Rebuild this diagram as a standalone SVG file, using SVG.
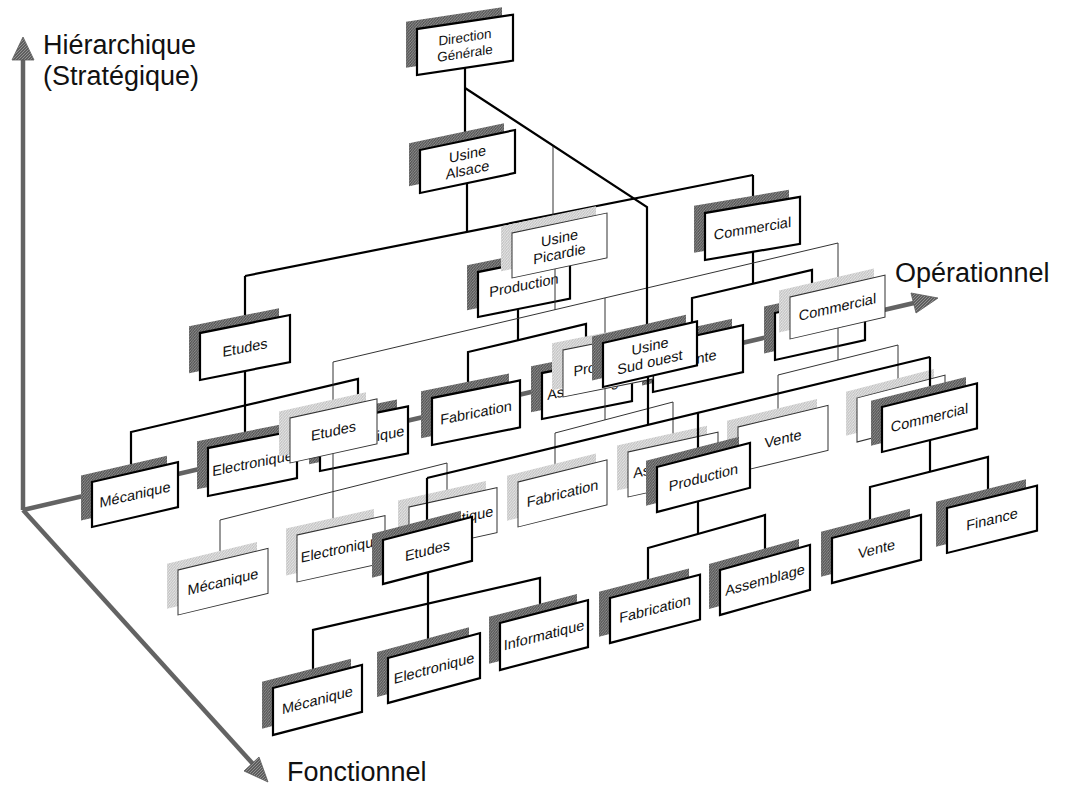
<svg xmlns="http://www.w3.org/2000/svg" width="1072" height="786" viewBox="0 0 1072 786">
  <defs>
    <pattern id="hatchDark" width="3" height="3" patternUnits="userSpaceOnUse">
      <rect width="3" height="3" fill="#555"/>
      <path d="M0,3 L3,0" stroke="#a0a0a0" stroke-width="0.8"/>
    </pattern>
    <pattern id="hatchLight" width="3" height="3" patternUnits="userSpaceOnUse">
      <rect width="3" height="3" fill="#c4c4c4"/>
      <path d="M0,3 L3,0" stroke="#f2f2f2" stroke-width="0.8"/>
    </pattern>
    <pattern id="hatchAxis" width="3" height="3" patternUnits="userSpaceOnUse">
      <rect width="3" height="3" fill="#5e5e5e"/>
      <path d="M0,3 L3,0" stroke="#aaa" stroke-width="0.7"/>
    </pattern>
  </defs>
  <style>
    .bx-d { fill:#fff; stroke:#000; stroke-width:2.2; }
    .bx-l { fill:#fff; stroke:#333; stroke-width:1; }
    .sh-d { fill:url(#hatchDark); }
    .sh-l { fill:url(#hatchLight); }
    .lbl { font-family:"Liberation Sans", Arial, sans-serif; font-size:14.5px; text-anchor:middle; fill:#111; }
    .lbl-s { font-size:13.5px; }
    .ln-d { fill:none; stroke:#000; stroke-width:2.2; }
    .ln-l { fill:none; stroke:#333; stroke-width:1; }
    .axis { fill:none; stroke:#636363; stroke-width:4.5; }
    .head { fill:url(#hatchAxis); stroke:#5a5a5a; stroke-width:0.8; }
    .ax-lbl { font-family:"Liberation Sans", Arial, sans-serif; font-size:27px; fill:#111; }
  </style>
  <rect width="1072" height="786" fill="#fff"/>

  <!-- three axes from the common origin -->
  <g id="axes">
    <path class="axis" d="M23,510 V58"/>
    <polygon class="head" points="12,60 34,60 23,37"/>
    <path class="axis" d="M23,510 L914,303"/>
    <polygon class="head" points="911,293 916,313 938,298"/>
    <path class="axis" d="M23,510 L253,764"/>
    <polygon class="head" points="244,771 259,757 268,782"/>
    <text class="ax-lbl" x="43" y="54">Hiérarchique</text>
    <text class="ax-lbl" x="43" y="85">(Stratégique)</text>
    <text class="ax-lbl" x="895" y="282">Opérationnel</text>
    <text class="ax-lbl" x="287" y="781">Fonctionnel</text>
  </g>

  <!-- back plane: Usine Alsace -->
  <g id="connectors-alsace">
    <path class="ln-d" d="M465,68 V141"/>
    <path class="ln-d" d="M467,183 V232"/>
    <path class="ln-d" d="M245,276 L753,175"/>
    <path class="ln-d" d="M245,276 V324"/>
    <path class="ln-d" d="M518,222 V264"/>
    <path class="ln-d" d="M753,175 V205"/>
    <path class="ln-d" d="M131,473 V432 L358,379 V416"/>
    <path class="ln-d" d="M245,371 V441"/>
    <path class="ln-d" d="M468,391 V352 L586,324 V364"/>
    <path class="ln-d" d="M518,309 V340"/>
    <path class="ln-d" d="M692,336 V298 L812,270 V305"/>
    <path class="ln-d" d="M753,252 V284"/>
  </g>

  <g id="direction-generale" transform="translate(417,29) skewY(-8.5)">
    <rect class="sh-d" x="-11" y="-9" width="96" height="46"/>
    <rect class="bx-d" width="96" height="46"/>
    <text class="lbl lbl-s" x="48" y="20">Direction</text>
    <text class="lbl lbl-s" x="48" y="36">Générale</text>
  </g>
  <g id="usine-alsace" transform="translate(420,150) skewY(-11.9)">
    <rect class="sh-d" x="-11" y="-9" width="95" height="43"/>
    <rect class="bx-d" width="95" height="43"/>
    <text class="lbl" x="47.5" y="19">Usine</text>
    <text class="lbl" x="47.5" y="35">Alsace</text>
  </g>
  <g id="alsace-etudes" transform="translate(200,333) skewY(-11.3)">
    <rect class="sh-d" x="-11" y="-9" width="90" height="47"/>
    <rect class="bx-d" width="90" height="47"/>
    <text class="lbl" x="45" y="28.5">Etudes</text>
  </g>
  <g id="alsace-production" transform="translate(478,272) skewY(-11.3)">
    <rect class="sh-d" x="-11" y="-9" width="92" height="45"/>
    <rect class="bx-d" width="92" height="45"/>
    <text class="lbl" x="46" y="27.5">Production</text>
  </g>
  <g id="alsace-commercial" transform="translate(705,213) skewY(-9.65)">
    <rect class="sh-d" x="-11" y="-9" width="95" height="47"/>
    <rect class="bx-d" width="95" height="47"/>
    <text class="lbl" x="47.5" y="28.5">Commercial</text>
  </g>
  <g id="alsace-mecanique" transform="translate(92,482) skewY(-13)">
    <rect class="sh-d" x="-11" y="-9" width="86" height="45"/>
    <rect class="bx-d" width="86" height="45"/>
    <text class="lbl" x="43" y="27.5">Mécanique</text>
  </g>
  <g id="alsace-electronique" transform="translate(208,448) skewY(-11.3)">
    <rect class="sh-d" x="-11" y="-9" width="89" height="48"/>
    <rect class="bx-d" width="89" height="48"/>
    <text class="lbl" x="44.5" y="29">Electronique</text>
  </g>
  <g id="alsace-informatique" transform="translate(320,424) skewY(-11.3)">
    <rect class="sh-d" x="-11" y="-9" width="88" height="47"/>
    <rect class="bx-d" width="88" height="47"/>
    <text class="lbl" x="44" y="28.5">Informatique</text>
  </g>
  <g id="alsace-fabrication" transform="translate(432,398) skewY(-11.3)">
    <rect class="sh-d" x="-11" y="-9" width="88" height="47"/>
    <rect class="bx-d" width="88" height="47"/>
    <text class="lbl" x="44" y="28.5">Fabrication</text>
  </g>
  <g id="alsace-assemblage" transform="translate(542,373) skewY(-11.3)">
    <rect class="sh-d" x="-11" y="-9" width="90" height="46"/>
    <rect class="bx-d" width="90" height="46"/>
    <text class="lbl" x="45" y="28">Assemblage</text>
  </g>
  <g id="alsace-vente" transform="translate(653,345) skewY(-12.4)">
    <rect class="sh-d" x="-11" y="-9" width="90" height="47"/>
    <rect class="bx-d" width="90" height="47"/>
    <text class="lbl" x="45" y="28.5">Vente</text>
  </g>
  <g id="alsace-finance" transform="translate(775,313) skewY(-12.4)">
    <rect class="sh-d" x="-11" y="-9" width="90" height="47"/>
    <rect class="bx-d" width="90" height="47"/>
    <text class="lbl" x="45" y="28.5">Finance</text>
  </g>

  <!-- middle plane: Usine Picardie -->
  <g id="connectors-picardie">
    <path class="ln-l" d="M553,146 V224"/>
    <path class="ln-l" d="M333,362 L838,243"/>
    <path class="ln-l" d="M333,362 V409"/>
    <path class="ln-l" d="M555,269 V310"/>
    <path class="ln-l" d="M605,298 V342"/>
    <path class="ln-l" d="M838,243 V286"/>
    <path class="ln-l" d="M220,560 V520 L447,463 V499"/>
    <path class="ln-l" d="M333,453 V527"/>
    <path class="ln-l" d="M555,473 V433 L673,402 V442"/>
    <path class="ln-l" d="M605,389 V420"/>
    <path class="ln-l" d="M778,417 V375 L898,345 V387"/>
    <path class="ln-l" d="M838,328 V360"/>
  </g>

  <g id="usine-picardie" transform="translate(512,233) skewY(-11.9)">
    <rect class="sh-l" x="-11" y="-9" width="95" height="45"/>
    <rect class="bx-l" width="95" height="45"/>
    <text class="lbl" x="47.5" y="20">Usine</text>
    <text class="lbl" x="47.5" y="36">Picardie</text>
  </g>
  <g id="picardie-etudes" transform="translate(290,418) skewY(-12.4)">
    <rect class="sh-l" x="-11" y="-9" width="87" height="45"/>
    <rect class="bx-l" width="87" height="45"/>
    <text class="lbl" x="43.5" y="27.5">Etudes</text>
  </g>
  <g id="picardie-production" transform="translate(563,350) skewY(-11.3)">
    <rect class="sh-l" x="-11" y="-9" width="90" height="47"/>
    <rect class="bx-l" width="90" height="47"/>
    <text class="lbl" x="45" y="28.5">Production</text>
  </g>
  <g id="picardie-commercial" transform="translate(790,297) skewY(-13)">
    <rect class="sh-l" x="-11" y="-9" width="95" height="42"/>
    <rect class="bx-l" width="95" height="42"/>
    <text class="lbl" x="47.5" y="26">Commercial</text>
  </g>
  <g id="picardie-mecanique" transform="translate(178,570) skewY(-13.5)">
    <rect class="sh-l" x="-11" y="-9" width="90" height="45"/>
    <rect class="bx-l" width="90" height="45"/>
    <text class="lbl" x="45" y="27.5">Mécanique</text>
  </g>
  <g id="picardie-electronique" transform="translate(297,535) skewY(-12.4)">
    <rect class="sh-l" x="-11" y="-9" width="88" height="47"/>
    <rect class="bx-l" width="88" height="47"/>
    <text class="lbl" x="44" y="28.5">Electronique</text>
  </g>
  <g id="picardie-informatique" transform="translate(409,507) skewY(-12.4)">
    <rect class="sh-l" x="-11" y="-9" width="88" height="45"/>
    <rect class="bx-l" width="88" height="45"/>
    <text class="lbl" x="44" y="27.5">Informatique</text>
  </g>
  <g id="picardie-fabrication" transform="translate(518,482) skewY(-14)">
    <rect class="sh-l" x="-11" y="-9" width="89" height="45"/>
    <rect class="bx-l" width="89" height="45"/>
    <text class="lbl" x="44.5" y="27.5">Fabrication</text>
  </g>
  <g id="picardie-assemblage" transform="translate(628,452) skewY(-12.4)">
    <rect class="sh-l" x="-11" y="-9" width="90" height="45"/>
    <rect class="bx-l" width="90" height="45"/>
    <text class="lbl" x="45" y="27.5">Assemblage</text>
  </g>
  <g id="picardie-vente" transform="translate(738,427) skewY(-13.5)">
    <rect class="sh-l" x="-11" y="-9" width="90" height="45"/>
    <rect class="bx-l" width="90" height="45"/>
    <text class="lbl" x="45" y="27.5">Vente</text>
  </g>
  <g id="picardie-finance" transform="translate(857,398) skewY(-14.6)">
    <rect class="sh-l" x="-11" y="-9" width="88" height="44"/>
    <rect class="bx-l" width="88" height="44"/>
    <text class="lbl" x="44" y="27">Finance</text>
  </g>

  <!-- front plane: Usine Sud ouest -->
  <g id="connectors-sud-ouest">
    <path class="ln-d" d="M465,88 L647,207 V333"/>
    <path class="ln-d" d="M648,377 V425"/>
    <path class="ln-d" d="M427,478 L930,357"/>
    <path class="ln-d" d="M427,478 V529"/>
    <path class="ln-d" d="M698,413 V456"/>
    <path class="ln-d" d="M930,357 V395"/>
    <path class="ln-d" d="M313,678 V630 L540,578 V613"/>
    <path class="ln-d" d="M428,572 V647"/>
    <path class="ln-d" d="M648,588 V548 L765,515 V557"/>
    <path class="ln-d" d="M698,501 V534"/>
    <path class="ln-d" d="M870,528 V487 L988,457 V498"/>
    <path class="ln-d" d="M930,440 V472"/>
  </g>

  <g id="usine-sud-ouest" transform="translate(603,343) skewY(-13)">
    <rect class="sh-d" x="-11" y="-9" width="94" height="44"/>
    <rect class="bx-d" width="94" height="44"/>
    <text class="lbl" x="47" y="19">Usine</text>
    <text class="lbl" x="47" y="35">Sud ouest</text>
  </g>
  <g id="sud-ouest-etudes" transform="translate(383,540) skewY(-14.6)">
    <rect class="sh-d" x="-11" y="-9" width="89" height="44"/>
    <rect class="bx-d" width="89" height="44"/>
    <text class="lbl" x="44.5" y="27">Etudes</text>
  </g>
  <g id="sud-ouest-production" transform="translate(657,467) skewY(-14.6)">
    <rect class="sh-d" x="-11" y="-9" width="93" height="45"/>
    <rect class="bx-d" width="93" height="45"/>
    <text class="lbl" x="46.5" y="27.5">Production</text>
  </g>
  <g id="sud-ouest-commercial" transform="translate(882,407) skewY(-14)">
    <rect class="sh-d" x="-11" y="-9" width="95" height="45"/>
    <rect class="bx-d" width="95" height="45"/>
    <text class="lbl" x="47.5" y="27.5">Commercial</text>
  </g>
  <g id="sud-ouest-mecanique" transform="translate(273,688) skewY(-14.6)">
    <rect class="sh-d" x="-11" y="-9" width="89" height="47"/>
    <rect class="bx-d" width="89" height="47"/>
    <text class="lbl" x="44.5" y="28.5">Mécanique</text>
  </g>
  <g id="sud-ouest-electronique" transform="translate(388,658) skewY(-15.1)">
    <rect class="sh-d" x="-11" y="-9" width="92" height="45"/>
    <rect class="bx-d" width="92" height="45"/>
    <text class="lbl" x="46" y="27.5">Electronique</text>
  </g>
  <g id="sud-ouest-informatique" transform="translate(500,623) skewY(-14.6)">
    <rect class="sh-d" x="-11" y="-9" width="88" height="47"/>
    <rect class="bx-d" width="88" height="47"/>
    <text class="lbl" x="44" y="28.5">Informatique</text>
  </g>
  <g id="sud-ouest-fabrication" transform="translate(610,598) skewY(-14.6)">
    <rect class="sh-d" x="-11" y="-9" width="90" height="45"/>
    <rect class="bx-d" width="90" height="45"/>
    <text class="lbl" x="45" y="27.5">Fabrication</text>
  </g>
  <g id="sud-ouest-assemblage" transform="translate(720,570) skewY(-15.6)">
    <rect class="sh-d" x="-11" y="-9" width="90" height="45"/>
    <rect class="bx-d" width="90" height="45"/>
    <text class="lbl" x="45" y="27.5">Assemblage</text>
  </g>
  <g id="sud-ouest-vente" transform="translate(832,538) skewY(-14.6)">
    <rect class="sh-d" x="-11" y="-9" width="89" height="45"/>
    <rect class="bx-d" width="89" height="45"/>
    <text class="lbl" x="44.5" y="27.5">Vente</text>
  </g>
  <g id="sud-ouest-finance" transform="translate(947,508) skewY(-14)">
    <rect class="sh-d" x="-11" y="-9" width="90" height="45"/>
    <rect class="bx-d" width="90" height="45"/>
    <text class="lbl" x="45" y="27.5">Finance</text>
  </g>
</svg>
